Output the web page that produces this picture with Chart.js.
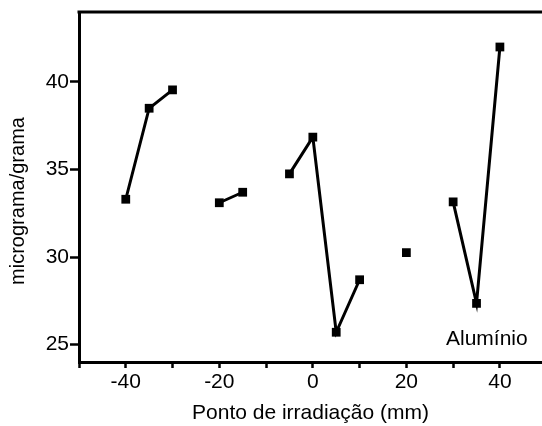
<!DOCTYPE html>
<html>
<head>
<meta charset="utf-8">
<script src="https://cdn.jsdelivr.net/npm/chart.js@4.4.1/dist/chart.umd.min.js"></script>
<style>
  html, body { margin: 0; padding: 0; background: #fff; overflow: hidden; }
</style>
</head>
<body>
<canvas id="chart" width="542" height="426"></canvas>
<script>
// irradiation points (mm) and measured values; null = no measurement (line breaks)
var positions = [-40, -35, -30, -25, -20, -15, -10, -5, 0, 5, 10, 15, 20, 25, 30, 35, 40];
var concentrations = [33.3, 38.5, 39.55, null, 33.1, 33.7, null, 34.75, 36.85, 25.7, 28.7, null, 30.25, null, 33.15, 27.35, 42.0];

// tick marks (labels only on the major ones)
var xTicks = [-50, -40, -30, -20, -10, 0, 10, 20, 30, 40];
var xLabels = ['', '-40', '', '-20', '', '0', '', '20', '', '40'];
var yTicks = [25, 27.5, 30, 32.5, 35, 37.5, 40, 42.5];
var yLabels = ['25', '', '30', '', '35', '', '40', ''];

var xTitle = "Ponto de irradiação (mm)";
var yTitle = "micrograma/grama";
var annotation = "Alumínio";
var annotationAt = [37.2, 25.3];

var fontFamily = "'Liberation Sans', Arial, sans-serif";

// top frame line, y title and element label
var extras = {
    id: 'extras',
    afterDraw: function (chart) {
        var ctx = chart.ctx, area = chart.chartArea;
        ctx.save();
        ctx.strokeStyle = '#000';
        ctx.lineWidth = 3;
        ctx.beginPath();
        ctx.moveTo(area.left - 1.5, area.top);
        ctx.lineTo(area.right, area.top);
        ctx.stroke();
        ctx.fillStyle = '#000';
        ctx.font = '21px ' + fontFamily;
        ctx.textAlign = 'center';
        ctx.textBaseline = 'middle';
        ctx.fillText(annotation,
            chart.scales.x.getPixelForValue(annotationAt[0]),
            chart.scales.y.getPixelForValue(annotationAt[1]));
        ctx.translate(18, 201);
        ctx.rotate(-Math.PI / 2);
        ctx.font = '20px ' + fontFamily;
        ctx.fillText(yTitle, 0, 0);
        ctx.restore();
    }
};

function setTicks(values) {
    return function (scale) {
        scale.ticks = values.map(function (v) { return { value: v }; });
    };
}

var ctx = document.getElementById("chart");

var chartGraph = new Chart(ctx, {
    type: 'line',
    data: {
        datasets: [{
            label: "Alumínio",
            data: positions.map(function (p, i) { return { x: p, y: concentrations[i] }; }),
            borderColor: '#000',
            backgroundColor: '#000',
            borderWidth: 3,
            pointStyle: 'rect',
            pointRadius: 6.2,
            pointBorderWidth: 0,
            spanGaps: false,
            tension: 0
        }]
    },
    options: {
        responsive: false,
        animation: false,
        devicePixelRatio: 1,
        layout: { autoPadding: false, padding: { top: 12, right: 0, left: 0, bottom: 0 } },
        plugins: {
            legend: { display: false },
            tooltip: { enabled: false }
        },
        scales: {
            x: {
                type: 'linear',
                min: -50,
                max: 49,
                afterBuildTicks: setTicks(xTicks),
                afterFit: function (scale) {
                    scale.height = 64;
                    scale.paddingLeft = 0;
                    scale.paddingRight = 0;
                },
                border: { color: '#000', width: 3 },
                grid: {
                    drawOnChartArea: false,
                    drawTicks: true,
                    tickLength: 6,
                    tickWidth: 2.5,
                    tickColor: '#000'
                },
                ticks: {
                    autoSkip: false,
                    maxRotation: 0,
                    padding: 2,
                    color: '#000',
                    font: { family: fontFamily, size: 21 },
                    callback: function (v, i) { return xLabels[i]; }
                },
                title: {
                    display: true,
                    text: xTitle,
                    color: '#000',
                    font: { family: fontFamily, size: 21 },
                    padding: 0
                }
            },
            y: {
                min: 24,
                max: 44,
                afterBuildTicks: setTicks(yTicks),
                afterFit: function (scale) {
                    scale.width = 79;
                    scale.paddingTop = 0;
                    scale.paddingBottom = 0;
                },
                border: { color: '#000', width: 3 },
                grid: {
                    drawOnChartArea: false,
                    drawTicks: true,
                    tickLength: 9,
                    tickWidth: 2.5,
                    tickColor: function (c) {
                        return c.tick && c.tick.value % 5 === 0 ? '#000' : 'rgba(0,0,0,0)';
                    }
                },
                ticks: {
                    autoSkip: false,
                    padding: 1,
                    color: '#000',
                    font: { family: fontFamily, size: 21 },
                    callback: function (v, i) { return yLabels[i]; }
                }
            }
        }
    },
    plugins: [extras]
});
</script>
</body>
</html>
